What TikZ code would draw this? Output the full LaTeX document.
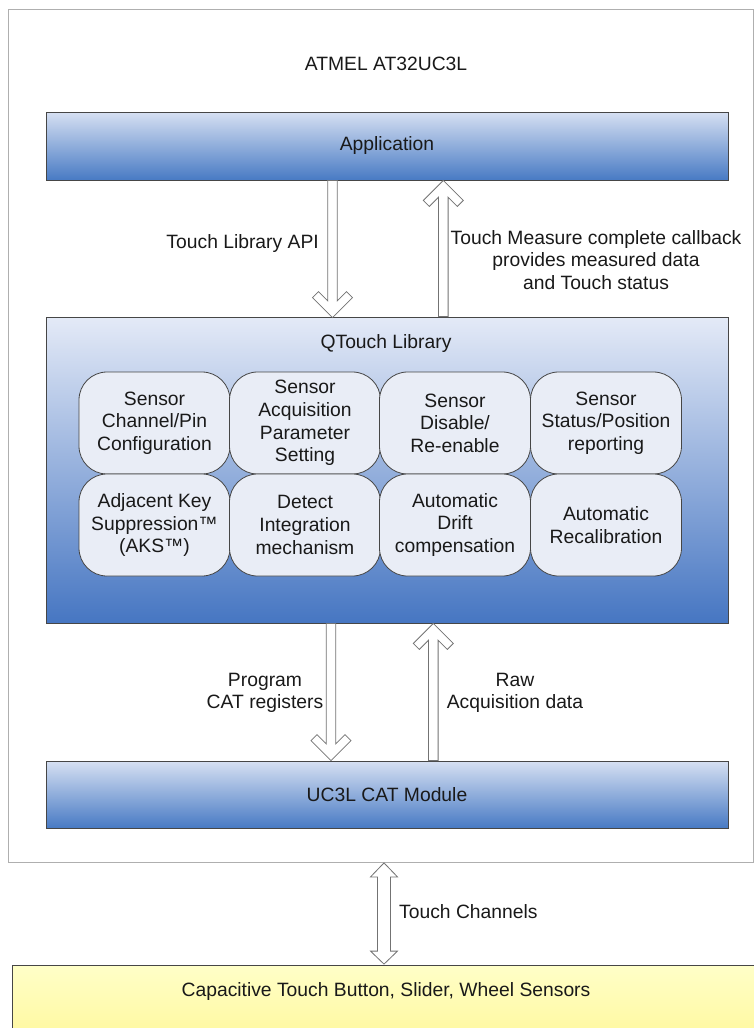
\documentclass[tikz,border=0pt]{standalone}
\usepackage{fontspec}
\setmainfont{Liberation Sans}
\usetikzlibrary{calc}
\definecolor{txt}{RGB}{25,25,25}
\definecolor{bluetop}{RGB}{214,224,242}
\definecolor{bluebot}{RGB}{72,122,196}
\definecolor{libtop}{RGB}{228,234,247}
\definecolor{libbot}{RGB}{70,118,194}
\definecolor{cellfill}{RGB}{233,237,246}
\definecolor{edge}{RGB}{70,70,70}
\definecolor{arrowc}{RGB}{115,115,115}
\definecolor{framec}{RGB}{175,175,175}
\definecolor{yeltop}{RGB}{255,255,200}
\definecolor{yelbot}{RGB}{255,247,155}
\newcommand\hollowarrow[2]{%
  \path[blockarr] let \p1=(#1), \p2=(#2), \n1={sign(\y2-\y1)} in
    (\x2,\y2) -- ({\x2-20pt},{\y2-(\n1)*20pt}) -- ({\x2-14pt},{\y2-(\n1)*26pt})
    -- ({\x2-4.8pt},{\y2-(\n1)*16.8pt}) -- ({\x2-4.8pt},\y1) -- ({\x2+4.8pt},\y1)
    -- ({\x2+4.8pt},{\y2-(\n1)*16.8pt}) -- ({\x2+14pt},{\y2-(\n1)*26pt})
    -- ({\x2+20pt},{\y2-(\n1)*20pt}) -- cycle;}
\begin{document}
\begin{tikzpicture}[x=1pt,y=-1pt,
  txtfont/.style={font=\fontsize{19.3}{22.6}\selectfont, text=txt},
  lbl/.style={txtfont, align=center, inner sep=0pt},
  layer/.style={txtfont, draw=edge, line width=0.8pt, top color=bluetop, bottom color=bluebot,
    minimum width=682pt, inner sep=0pt},
  cell/.style={txtfont, draw=edge, line width=0.8pt, fill=cellfill, rounded corners=28pt,
    minimum width=151pt, minimum height=102pt, inner sep=0pt, align=center},
  blockarr/.style={draw=arrowc, fill=white, line width=0.8pt, line join=miter}]
\useasboundingbox (0,0) rectangle (754,1028);
% chip frame
\node[draw=framec, line width=0.8pt, minimum width=745.5pt, minimum height=853pt, inner sep=0pt] (chip) at (380.75,435.5) {};
\node[lbl, anchor=base] (title) at (386,70) {ATMEL AT32UC3L};
% layers
\node[layer, minimum height=68pt] (app) at (387,146) {Application};
\node[layer, top color=libtop, bottom color=libbot, minimum height=306pt] (lib) at (387,470) {};
\node[lbl, anchor=base] (libtitle) at (386,348.5) {QTouch Library};
\node[cell] (c11) at (154.5,423) {Sensor\\Channel/Pin\\Configuration};
\node[cell] (c12) at (305,423) {Sensor\\Acquisition\\Parameter\\Setting};
\node[cell] (c13) at (455,423) {Sensor\\Disable/\\Re-enable};
\node[cell] (c14) at (606,423) {Sensor\\Status/Position\\reporting};
\node[cell] (c21) at (154.5,525) {Adjacent Key\\Suppression™\\(AKS™)};
\node[cell] (c22) at (305,525) {Detect\\Integration\\mechanism};
\node[cell] (c23) at (455,525) {Automatic\\Drift\\compensation};
\node[cell] (c24) at (606,525) {Automatic\\Recalibration};
\node[layer, minimum height=67pt] (cat) at (387,794.5) {UC3L CAT Module};
% sensors
\node[draw=edge, line width=0.8pt, top color=yeltop, bottom color=yelbot, minimum width=760pt, minimum height=80pt, inner sep=0pt] (sens) at (392,1005) {};
\node[lbl, anchor=base] (sensl) at (386,996.5) {Capacitive Touch Button, Slider, Wheel Sensors};
% arrow end points
\coordinate (a1s) at ($(app.south)+(-54.5,0)$);
\coordinate (a1t) at ($(lib.north)+(-54.5,1)$);
\coordinate (a2s) at ($(lib.north)+(56.3,0)$);
\coordinate (a2t) at ($(app.south)+(56.3,0)$);
\coordinate (a3s) at ($(lib.south)+(-56,0)$);
\coordinate (a3t) at ($(cat.north)+(-56,0)$);
\coordinate (a4s) at ($(cat.north)+(46.3,0)$);
\coordinate (a4t) at ($(lib.south)+(46.3,0)$);
\coordinate (dta) at ($(chip.south)+(3.25,0.5)$);
\coordinate (dtb) at ($(sens.north)+(-8,-0.5)$);
\hollowarrow{a1s}{a1t}
\hollowarrow{a2s}{a2t}
\hollowarrow{a3s}{a3t}
\hollowarrow{a4s}{a4t}
\path[blockarr] let \p1=(dta), \p2=(dtb) in
  (\x1,\y1) -- ({\x1-13.5pt},{\y1-14pt}) -- ({\x1-6.5pt},{\y1-14pt}) -- ({\x1-6.5pt},{\y2+13pt})
  -- ({\x1-13.5pt},{\y2+13pt}) -- (\x1,\y2) -- ({\x1+13.5pt},{\y2+13pt}) -- ({\x1+6.5pt},{\y2+13pt})
  -- ({\x1+6.5pt},{\y1-14pt}) -- ({\x1+13.5pt},{\y1-14pt}) -- cycle;
% labels
\node[lbl, anchor=base east] (apil) at (319,248) {Touch Library API};
\node[lbl] (cbl) at (596,260) {Touch Measure complete callback\\provides measured data\\and Touch status};
\node[lbl] (progl) at (265,693) {Program\\CAT registers};
\node[lbl] (rawl) at (515,693) {Raw\\Acquisition data};
\node[lbl, anchor=base west] (tchl) at (399,918.5) {Touch Channels};
\end{tikzpicture}
\end{document}
